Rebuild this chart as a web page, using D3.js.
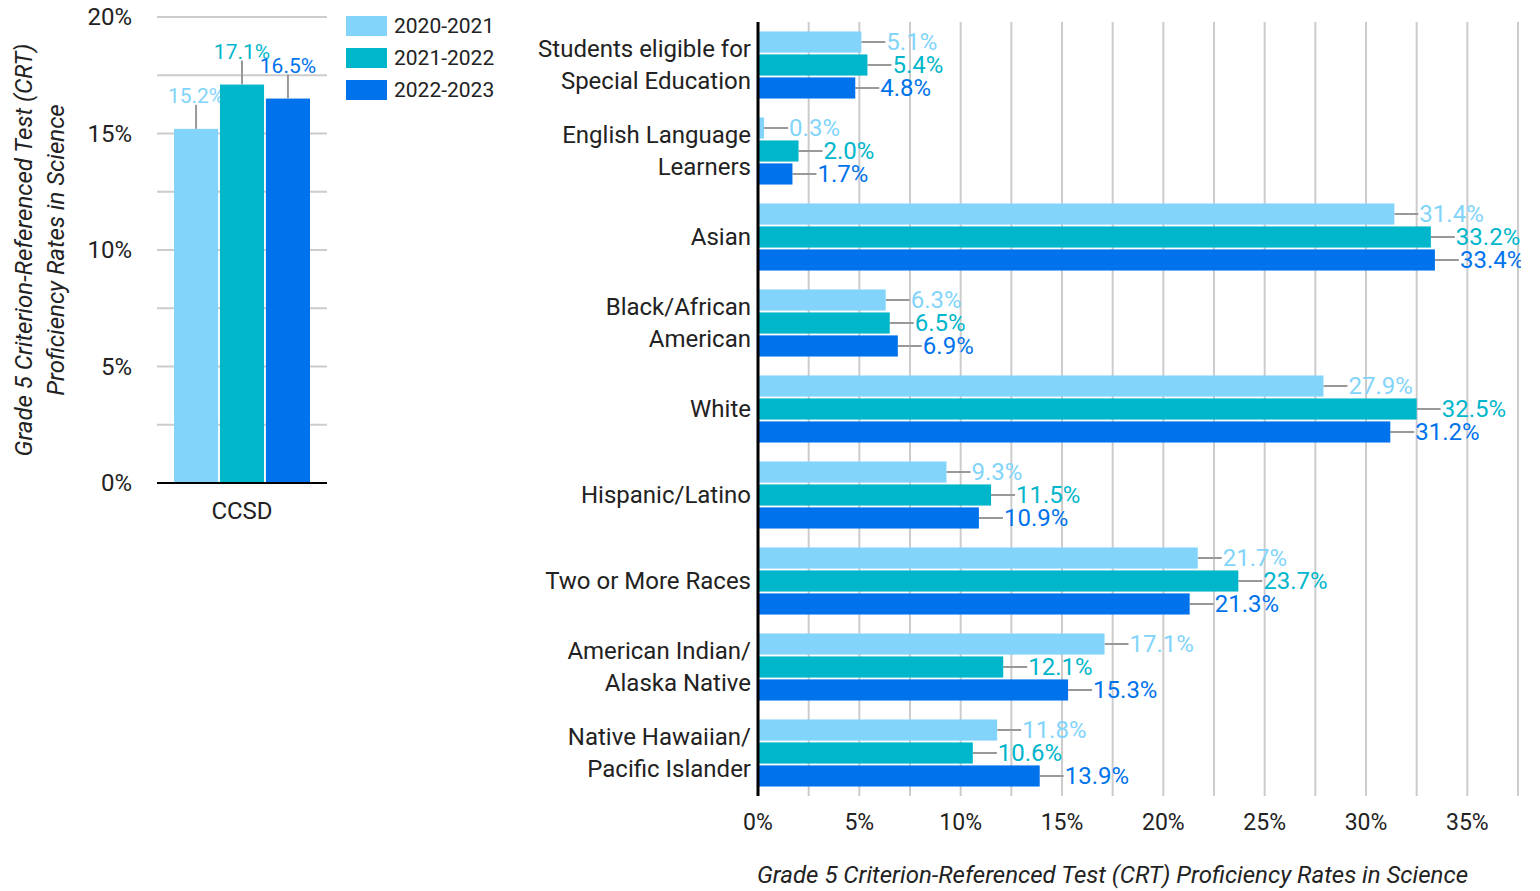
<!DOCTYPE html>
<html><head><meta charset="utf-8">
<script src="https://cdn.jsdelivr.net/npm/d3@7"></script>
<style>
body{margin:0;background:#fff;}
svg text{font-family:Roboto,"Noto Sans",sans-serif;}
</style></head>
<body><svg id="c" width="1540" height="891"></svg>
<script>
const series = ["2020-2021","2021-2022","2022-2023"];
const colors = ["#82d4fa","#00b6cb","#0073ec"];
const ccsdCategories = ["CCSD"];
const ccsdValues = [[15.2],[17.1],[16.5]]; // per series
const groups = [
  ["Students eligible for","Special Education"],
  ["English Language","Learners"],
  ["Asian"],
  ["Black/African","American"],
  ["White"],
  ["Hispanic/Latino"],
  ["Two or More Races"],
  ["American Indian/","Alaska Native"],
  ["Native Hawaiian/","Pacific Islander"]
];
const v2021 = [5.1,0.3,31.4,6.3,27.9,9.3,21.7,17.1,11.8];
const v2022 = [5.4,2.0,33.2,6.5,32.5,11.5,23.7,12.1,10.6];
const v2023 = [4.8,1.7,33.4,6.9,31.2,10.9,21.3,15.3,13.9];
const groupValues = [v2021,v2022,v2023];
const leftTicks = [0,5,10,15,20];
const rightTicks = [0,5,10,15,20,25,30,35];
const axisTitle = "Grade 5 Criterion-Referenced Test (CRT) Proficiency Rates in Science";
const leftTitle = ["Grade 5 Criterion-Referenced Test (CRT)","Proficiency Rates in Science"];

const svg = d3.select("#c");
const fmt = v => v.toFixed(1)+"%";
const grid = "#cccccc", lead = "#999999";

// ---------- Left chart ----------
const yL = d3.scaleLinear().domain([0,20]).range([483,17]);
const xL = d3.scaleBand().domain(ccsdCategories).range([157,327]).paddingInner(0.2).paddingOuter(0.1);
const xLi = d3.scaleBand().domain(series).range([0,xL.bandwidth()]).paddingInner(0.04);
const L = svg.append("g");
L.selectAll("line.g").data(d3.range(2.5,20.01,2.5)).join("line")
  .attr("x1",157).attr("x2",327).attr("y1",d=>yL(d)).attr("y2",d=>yL(d))
  .attr("stroke",grid).attr("stroke-width",2);
L.selectAll("text.t").data(leftTicks).join("text")
  .attr("x",132).attr("y",d=>yL(d)).attr("dy","0.35em").attr("text-anchor","end")
  .attr("font-size",24).attr("fill","#222").text(d=>d+"%");
series.forEach((s,i)=>{
  ccsdCategories.forEach((c,j)=>{
    const v = ccsdValues[i][j];
    const x0 = xL(c)+xLi(s), w = xLi.bandwidth();
    L.append("rect").attr("x",x0).attr("y",yL(v)).attr("width",w).attr("height",yL(0)-yL(v)).attr("fill",colors[i]);
    L.append("line").attr("x1",x0+w/2).attr("x2",x0+w/2).attr("y1",yL(v)).attr("y2",yL(v)-24)
      .attr("stroke",lead).attr("stroke-width",2);
    L.append("text").attr("x",x0+w/2).attr("y",yL(v)-26).attr("text-anchor","middle")
      .attr("font-size",21).attr("fill",colors[i]).text(fmt(v));
  });
});
L.append("line").attr("x1",157).attr("x2",327).attr("y1",yL(0)).attr("y2",yL(0)).attr("stroke","#000").attr("stroke-width",2);
L.selectAll("text.c").data(ccsdCategories).join("text")
  .attr("x",d=>xL(d)+xL.bandwidth()/2).attr("y",519).attr("text-anchor","middle")
  .attr("font-size",24).attr("fill","#222").text(d=>d);
const lt = L.append("text").attr("transform","translate(38,250) rotate(-90)").attr("text-anchor","middle")
  .attr("font-size",24).attr("font-style","italic").attr("fill","#222");
leftTitle.forEach((t,i)=>lt.append("tspan").attr("x",0).attr("y",i*32-6).text(t));

// legend
const lg = svg.append("g");
series.forEach((s,i)=>{
  lg.append("rect").attr("x",346).attr("y",16+i*32).attr("width",41).attr("height",20).attr("fill",colors[i]);
  lg.append("text").attr("x",394).attr("y",26+i*32).attr("dy","0.35em").attr("font-size",21).attr("fill","#222").text(s);
});

// ---------- Right chart ----------
const xR = d3.scaleLinear().domain([0,37.5]).range([758,1518]);
const yR = d3.scaleBand().domain(d3.range(groups.length)).range([22,796]).paddingInner(0.22).paddingOuter(0.11);
const yRi = d3.scaleBand().domain(series).range([0,yR.bandwidth()]).paddingInner(0.08);
const R = svg.append("g");
R.selectAll("line.g").data(d3.range(2.5,37.51,2.5)).join("line")
  .attr("x1",d=>xR(d)).attr("x2",d=>xR(d)).attr("y1",22).attr("y2",796)
  .attr("stroke",grid).attr("stroke-width",2);
R.selectAll("text.t").data(rightTicks).join("text")
  .attr("x",d=>xR(d)).attr("y",830).attr("text-anchor","middle")
  .attr("font-size",23).attr("fill","#222").text(d=>d+"%");
svg.append("clipPath").attr("id","clipR").append("rect").attr("x",0).attr("y",0).attr("width",1521).attr("height",891);
const RL = R.append("g").attr("clip-path","url(#clipR)");
series.forEach((s,i)=>{
  groups.forEach((g,j)=>{
    const v = groupValues[i][j];
    const y0 = yR(j)+yRi(s), h = yRi.bandwidth(), cy = y0+h/2;
    R.append("rect").attr("x",xR(0)).attr("y",y0).attr("width",xR(v)-xR(0)).attr("height",h).attr("fill",colors[i]);
    RL.append("line").attr("x1",xR(v)).attr("x2",xR(v)+24).attr("y1",cy).attr("y2",cy).attr("stroke",lead).attr("stroke-width",2);
    RL.append("text").attr("x",xR(v)+25).attr("y",cy).attr("dy","0.35em")
      .attr("font-size",24).attr("fill",colors[i]).text(fmt(v));
  });
});
R.append("line").attr("x1",758).attr("x2",758).attr("y1",22).attr("y2",796).attr("stroke","#000").attr("stroke-width",3);
groups.forEach((g,j)=>{
  const cy = yR(j)+yR.bandwidth()/2;
  const t = R.append("text").attr("text-anchor","end").attr("font-size",24).attr("fill","#222");
  g.forEach((line,k)=>t.append("tspan").attr("x",751).attr("y",cy+(k-(g.length-1)/2)*32).attr("dy","0.35em").text(line));
});
R.append("text").attr("x",757).attr("y",883).attr("font-size",23).attr("font-style","italic").attr("fill","#222")
  .attr("textLength",711).attr("lengthAdjust","spacingAndGlyphs").text(axisTitle);
</script></body></html>
